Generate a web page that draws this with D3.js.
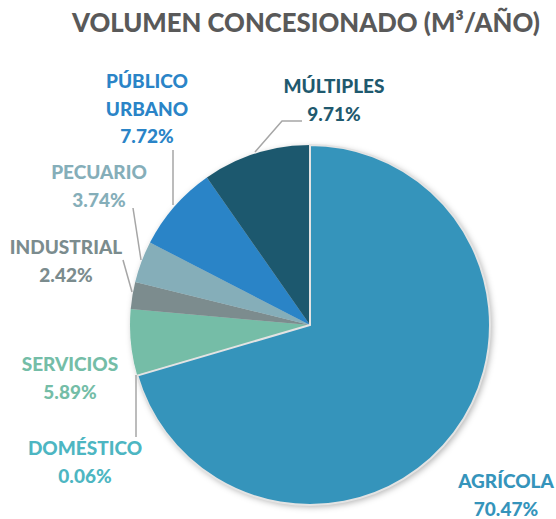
<!DOCTYPE html>
<html><head><meta charset="utf-8">
<script src="https://cdn.jsdelivr.net/npm/d3@7"></script>
<style>body{margin:0;background:#fff}svg{display:block}text{font-family:Lato,"Open Sans",sans-serif;font-weight:900}</style>
</head><body>
<script>
const title = "VOLUMEN CONCESIONADO (M³/AÑO)";
const categories = ["AGRÍCOLA","DOMÉSTICO","SERVICIOS","INDUSTRIAL","PECUARIO","PÚBLICO URBANO","MÚLTIPLES"];
const labelLines = [["AGRÍCOLA"],["DOMÉSTICO"],["SERVICIOS"],["INDUSTRIAL"],["PECUARIO"],["PÚBLICO","URBANO"],["MÚLTIPLES"]];
const values = [70.47, 0.06, 5.89, 2.42, 3.74, 7.72, 9.71];
const colors = ["#3594BB","#4DB6C2","#74BDA7","#7B8C8E","#85AEB9","#2A84C7","#1F596E"];
const labelColors = ["#3594BB","#4DB6C2","#74BDA7","#7B8C8E","#85AEB9","#2A84C7","#1F596E"];

const W=556,H=519, cx=310, cy=325, R=180;
const svg=d3.select("body").append("svg").attr("width",W).attr("height",H);
const defs=svg.append("defs");
const f=defs.append("filter").attr("id","sh").attr("x","-20%").attr("y","-20%").attr("width","140%").attr("height","140%");
f.append("feDropShadow").attr("dx",2).attr("dy",2).attr("stdDeviation",3).attr("flood-color","#000").attr("flood-opacity",0.3);

svg.append("text").attr("x",306).attr("y",32).attr("text-anchor","middle")
  .attr("font-size",26).attr("fill","#595959").attr("textLength",468).attr("lengthAdjust","spacingAndGlyphs").text(title);

const pie=d3.pie().sort(null).value(d=>d)(values);
const arc=d3.arc().innerRadius(0).outerRadius(R);
const g=svg.append("g").attr("transform",`translate(${cx},${cy})`);
g.append("g").attr("filter","url(#sh)").selectAll("path").data(pie).join("path")
  .attr("d",arc).attr("fill",(d,i)=>colors[i]);
g.append("path").datum(pie[0]).attr("d",arc).attr("fill","none").attr("stroke","#E3E3E3").attr("stroke-width",2);

const leaders=[
  null,
  [[136,437],[136,375]],
  null,
  [[123,260],[132,292]],
  [[133,208],[141,260]],
  [[173,150],[173,205]],
  [[302,121],[282,121],[255,152]]
];
const line=d3.line();
svg.append("g").selectAll("path").data(leaders.filter(d=>d)).join("path")
  .attr("d",line).attr("fill","none").attr("stroke","#A6A6A6").attr("stroke-width",1.5);

const labelPos=[[506,488],[85,455],[70,371],[66,254],[99,179],[147,88],[334,93]];
const lh=27.5;
labelPos.forEach((p,i)=>{
  const t=svg.append("text").attr("text-anchor","middle").attr("font-size",19).attr("fill",labelColors[i]);
  const lines=[...labelLines[i], values[i].toFixed(2)+"%"];
  lines.forEach((s,k)=>t.append("tspan").attr("x",p[0]).attr("y",p[1]+k*lh).text(s));
});
</script>
</body></html>
